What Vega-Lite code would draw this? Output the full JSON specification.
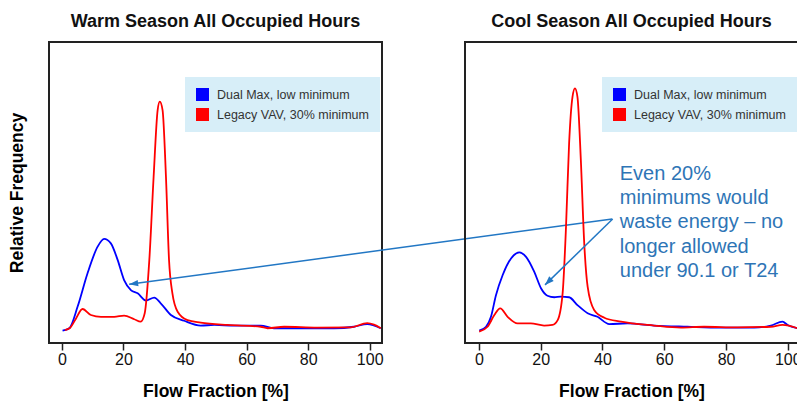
{
  "$schema": "https://vega.github.io/schema/vega-lite/v6.json",
  "padding": {"left": 7, "top": 12, "right": 0, "bottom": 0},
  "bounds": "flush",
  "spacing": 83,
  "config": {
    "font": "Liberation Sans",
    "view": {"stroke": "#222", "strokeWidth": 2},
    "axis": {"grid": false}
  },
  "datasets": {
    "curves": [
      {"p": "warm", "s": "Dual Max, low minimum", "x": 0.2, "y": 4.1},
      {"p": "warm", "s": "Dual Max, low minimum", "x": 2.4, "y": 4.9},
      {"p": "warm", "s": "Dual Max, low minimum", "x": 5.1, "y": 12.1},
      {"p": "warm", "s": "Dual Max, low minimum", "x": 8.3, "y": 23.1},
      {"p": "warm", "s": "Dual Max, low minimum", "x": 11.6, "y": 32.0},
      {"p": "warm", "s": "Dual Max, low minimum", "x": 13.7, "y": 34.6},
      {"p": "warm", "s": "Dual Max, low minimum", "x": 15.9, "y": 33.1},
      {"p": "warm", "s": "Dual Max, low minimum", "x": 18.1, "y": 27.6},
      {"p": "warm", "s": "Dual Max, low minimum", "x": 20.2, "y": 20.9},
      {"p": "warm", "s": "Dual Max, low minimum", "x": 22.4, "y": 17.6},
      {"p": "warm", "s": "Dual Max, low minimum", "x": 24.6, "y": 16.5},
      {"p": "warm", "s": "Dual Max, low minimum", "x": 27.3, "y": 14.1},
      {"p": "warm", "s": "Dual Max, low minimum", "x": 30.0, "y": 15.1},
      {"p": "warm", "s": "Dual Max, low minimum", "x": 32.1, "y": 13.2},
      {"p": "warm", "s": "Dual Max, low minimum", "x": 35.4, "y": 9.3},
      {"p": "warm", "s": "Dual Max, low minimum", "x": 39.7, "y": 7.4},
      {"p": "warm", "s": "Dual Max, low minimum", "x": 45.1, "y": 5.8},
      {"p": "warm", "s": "Dual Max, low minimum", "x": 49.5, "y": 6.0},
      {"p": "warm", "s": "Dual Max, low minimum", "x": 56.0, "y": 5.8},
      {"p": "warm", "s": "Dual Max, low minimum", "x": 64.6, "y": 5.8},
      {"p": "warm", "s": "Dual Max, low minimum", "x": 68.9, "y": 4.9},
      {"p": "warm", "s": "Dual Max, low minimum", "x": 77.6, "y": 4.9},
      {"p": "warm", "s": "Dual Max, low minimum", "x": 88.4, "y": 4.9},
      {"p": "warm", "s": "Dual Max, low minimum", "x": 94.9, "y": 5.4},
      {"p": "warm", "s": "Dual Max, low minimum", "x": 99.2, "y": 6.3},
      {"p": "warm", "s": "Dual Max, low minimum", "x": 103.6, "y": 4.9},
      {"p": "warm", "s": "Legacy VAV, 30% minimum", "x": 1.0, "y": 4.3},
      {"p": "warm", "s": "Legacy VAV, 30% minimum", "x": 2.6, "y": 5.0},
      {"p": "warm", "s": "Legacy VAV, 30% minimum", "x": 4.5, "y": 8.0},
      {"p": "warm", "s": "Legacy VAV, 30% minimum", "x": 6.7, "y": 11.3},
      {"p": "warm", "s": "Legacy VAV, 30% minimum", "x": 9.4, "y": 9.3},
      {"p": "warm", "s": "Legacy VAV, 30% minimum", "x": 12.7, "y": 8.7},
      {"p": "warm", "s": "Legacy VAV, 30% minimum", "x": 17.0, "y": 8.7},
      {"p": "warm", "s": "Legacy VAV, 30% minimum", "x": 20.2, "y": 9.1},
      {"p": "warm", "s": "Legacy VAV, 30% minimum", "x": 23.5, "y": 7.9},
      {"p": "warm", "s": "Legacy VAV, 30% minimum", "x": 25.6, "y": 7.1},
      {"p": "warm", "s": "Legacy VAV, 30% minimum", "x": 26.9, "y": 9.9},
      {"p": "warm", "s": "Legacy VAV, 30% minimum", "x": 28.4, "y": 27.6},
      {"p": "warm", "s": "Legacy VAV, 30% minimum", "x": 29.8, "y": 55.3},
      {"p": "warm", "s": "Legacy VAV, 30% minimum", "x": 31.1, "y": 77.4},
      {"p": "warm", "s": "Legacy VAV, 30% minimum", "x": 31.8, "y": 80.2},
      {"p": "warm", "s": "Legacy VAV, 30% minimum", "x": 32.7, "y": 77.4},
      {"p": "warm", "s": "Legacy VAV, 30% minimum", "x": 33.8, "y": 55.3},
      {"p": "warm", "s": "Legacy VAV, 30% minimum", "x": 34.8, "y": 27.6},
      {"p": "warm", "s": "Legacy VAV, 30% minimum", "x": 35.9, "y": 16.5},
      {"p": "warm", "s": "Legacy VAV, 30% minimum", "x": 37.6, "y": 10.4},
      {"p": "warm", "s": "Legacy VAV, 30% minimum", "x": 40.8, "y": 7.6},
      {"p": "warm", "s": "Legacy VAV, 30% minimum", "x": 45.1, "y": 6.8},
      {"p": "warm", "s": "Legacy VAV, 30% minimum", "x": 53.8, "y": 6.0},
      {"p": "warm", "s": "Legacy VAV, 30% minimum", "x": 64.6, "y": 5.4},
      {"p": "warm", "s": "Legacy VAV, 30% minimum", "x": 66.8, "y": 4.9},
      {"p": "warm", "s": "Legacy VAV, 30% minimum", "x": 72.2, "y": 5.4},
      {"p": "warm", "s": "Legacy VAV, 30% minimum", "x": 83.0, "y": 5.1},
      {"p": "warm", "s": "Legacy VAV, 30% minimum", "x": 93.8, "y": 5.2},
      {"p": "warm", "s": "Legacy VAV, 30% minimum", "x": 99.2, "y": 6.6},
      {"p": "warm", "s": "Legacy VAV, 30% minimum", "x": 101.4, "y": 6.1},
      {"p": "warm", "s": "Legacy VAV, 30% minimum", "x": 103.6, "y": 4.9},
      {"p": "cool", "s": "Dual Max, low minimum", "x": 0.1, "y": 4.1},
      {"p": "cool", "s": "Dual Max, low minimum", "x": 2.3, "y": 5.4},
      {"p": "cool", "s": "Dual Max, low minimum", "x": 3.9, "y": 8.7},
      {"p": "cool", "s": "Dual Max, low minimum", "x": 5.5, "y": 15.8},
      {"p": "cool", "s": "Dual Max, low minimum", "x": 7.7, "y": 22.6},
      {"p": "cool", "s": "Dual Max, low minimum", "x": 10.4, "y": 28.1},
      {"p": "cool", "s": "Dual Max, low minimum", "x": 13.1, "y": 30.1},
      {"p": "cool", "s": "Dual Max, low minimum", "x": 15.2, "y": 28.7},
      {"p": "cool", "s": "Dual Max, low minimum", "x": 17.9, "y": 23.7},
      {"p": "cool", "s": "Dual Max, low minimum", "x": 20.1, "y": 18.2},
      {"p": "cool", "s": "Dual Max, low minimum", "x": 22.2, "y": 15.7},
      {"p": "cool", "s": "Dual Max, low minimum", "x": 24.4, "y": 15.2},
      {"p": "cool", "s": "Dual Max, low minimum", "x": 26.5, "y": 15.4},
      {"p": "cool", "s": "Dual Max, low minimum", "x": 29.2, "y": 15.2},
      {"p": "cool", "s": "Dual Max, low minimum", "x": 31.9, "y": 12.6},
      {"p": "cool", "s": "Dual Max, low minimum", "x": 35.2, "y": 9.9},
      {"p": "cool", "s": "Dual Max, low minimum", "x": 38.4, "y": 8.7},
      {"p": "cool", "s": "Dual Max, low minimum", "x": 42.2, "y": 6.3},
      {"p": "cool", "s": "Dual Max, low minimum", "x": 48.1, "y": 6.5},
      {"p": "cool", "s": "Dual Max, low minimum", "x": 56.7, "y": 5.8},
      {"p": "cool", "s": "Dual Max, low minimum", "x": 67.5, "y": 5.4},
      {"p": "cool", "s": "Dual Max, low minimum", "x": 78.3, "y": 5.1},
      {"p": "cool", "s": "Dual Max, low minimum", "x": 89.1, "y": 5.1},
      {"p": "cool", "s": "Dual Max, low minimum", "x": 94.5, "y": 5.8},
      {"p": "cool", "s": "Dual Max, low minimum", "x": 98.3, "y": 7.1},
      {"p": "cool", "s": "Dual Max, low minimum", "x": 99.9, "y": 6.0},
      {"p": "cool", "s": "Dual Max, low minimum", "x": 103.1, "y": 4.9},
      {"p": "cool", "s": "Legacy VAV, 30% minimum", "x": 0.1, "y": 3.8},
      {"p": "cool", "s": "Legacy VAV, 30% minimum", "x": 2.8, "y": 5.4},
      {"p": "cool", "s": "Legacy VAV, 30% minimum", "x": 5.0, "y": 9.3},
      {"p": "cool", "s": "Legacy VAV, 30% minimum", "x": 6.9, "y": 11.5},
      {"p": "cool", "s": "Legacy VAV, 30% minimum", "x": 9.3, "y": 8.7},
      {"p": "cool", "s": "Legacy VAV, 30% minimum", "x": 12.5, "y": 6.5},
      {"p": "cool", "s": "Legacy VAV, 30% minimum", "x": 16.8, "y": 6.5},
      {"p": "cool", "s": "Legacy VAV, 30% minimum", "x": 21.1, "y": 5.8},
      {"p": "cool", "s": "Legacy VAV, 30% minimum", "x": 23.8, "y": 6.0},
      {"p": "cool", "s": "Legacy VAV, 30% minimum", "x": 25.5, "y": 7.6},
      {"p": "cool", "s": "Legacy VAV, 30% minimum", "x": 27.1, "y": 16.5},
      {"p": "cool", "s": "Legacy VAV, 30% minimum", "x": 28.2, "y": 38.6},
      {"p": "cool", "s": "Legacy VAV, 30% minimum", "x": 29.2, "y": 66.3},
      {"p": "cool", "s": "Legacy VAV, 30% minimum", "x": 30.3, "y": 81.8},
      {"p": "cool", "s": "Legacy VAV, 30% minimum", "x": 31.1, "y": 84.6},
      {"p": "cool", "s": "Legacy VAV, 30% minimum", "x": 31.9, "y": 81.8},
      {"p": "cool", "s": "Legacy VAV, 30% minimum", "x": 33.0, "y": 60.8},
      {"p": "cool", "s": "Legacy VAV, 30% minimum", "x": 34.1, "y": 33.1},
      {"p": "cool", "s": "Legacy VAV, 30% minimum", "x": 35.2, "y": 18.7},
      {"p": "cool", "s": "Legacy VAV, 30% minimum", "x": 37.3, "y": 11.0},
      {"p": "cool", "s": "Legacy VAV, 30% minimum", "x": 40.6, "y": 8.4},
      {"p": "cool", "s": "Legacy VAV, 30% minimum", "x": 46.0, "y": 7.1},
      {"p": "cool", "s": "Legacy VAV, 30% minimum", "x": 56.7, "y": 5.8},
      {"p": "cool", "s": "Legacy VAV, 30% minimum", "x": 65.4, "y": 5.1},
      {"p": "cool", "s": "Legacy VAV, 30% minimum", "x": 72.9, "y": 5.4},
      {"p": "cool", "s": "Legacy VAV, 30% minimum", "x": 83.7, "y": 5.2},
      {"p": "cool", "s": "Legacy VAV, 30% minimum", "x": 94.5, "y": 5.4},
      {"p": "cool", "s": "Legacy VAV, 30% minimum", "x": 98.3, "y": 6.0},
      {"p": "cool", "s": "Legacy VAV, 30% minimum", "x": 103.1, "y": 4.9}
    ],
    "arrows": [
      {"p": "warm", "hx": 21.85, "hy": 19.5, "tx": 178.8, "ty": 41.2, "a": 262.3},
      {"p": "cool", "hx": 21.4, "hy": 19.3, "tx": 43.3, "ty": 41.2, "a": 225.7}
    ],
    "notes": [
      {"x": 45.6, "y": 54.3, "t": "Even 20%\nminimums would\nwaste energy – no\nlonger allowed\nunder 90.1 or T24"}
    ]
  },
  "hconcat": [
    {
      "width": 333,
      "height": 301,
      "title": {"text": "Warm Season All Occupied Hours", "fontSize": 18, "fontWeight": "bold", "color": "#111", "baseline": "alphabetic", "offset": -3, "anchor": "middle"},
      "layer": [
        {
          "data": {"name": "curves"},
          "transform": [{"filter": "datum.p == 'warm'"}],
          "mark": {"type": "line", "interpolate": "monotone", "strokeWidth": 1.8},
          "encoding": {
            "x": {"field": "x", "type": "quantitative", "scale": {"domain": [-4.2, 104], "nice": false, "zero": false},
              "axis": {"values": [0, 20, 40, 60, 80, 100], "title": "Flow Fraction [%]", "domain": false, "tickSize": 7, "tickColor": "#222", "tickWidth": 1.5, "labelFontSize": 16, "labelColor": "#111", "labelPadding": 1, "titleFontSize": 17.5, "titleFontWeight": "bold", "titleColor": "#000", "titlePadding": 15}},
            "y": {"field": "y", "type": "quantitative", "scale": {"domain": [0, 100], "nice": false},
              "axis": {"title": "Relative Frequency", "labels": false, "ticks": false, "domain": false, "titleFontSize": 17.5, "titleFontWeight": "bold", "titleColor": "#000", "titlePadding": 23}},
            "color": {"field": "s", "type": "nominal",
              "scale": {"domain": ["Dual Max, low minimum", "Legacy VAV, 30% minimum"], "range": ["#0000ff", "#ff0000"]},
              "legend": {"orient": "none", "legendX": 136, "legendY": 35, "title": null, "symbolType": "square", "symbolSize": 169, "labelFontSize": 12.5, "labelColor": "#333", "labelOffset": 8, "rowPadding": 7, "padding": 11, "fillColor": "#d7eef8",
                "encode": {"symbols": {"update": {"fill": {"signal": "datum.value == 'Dual Max, low minimum' ? '#0000ff' : '#ff0000'"}, "fillOpacity": {"value": 1}, "strokeWidth": {"value": 0}}}}}}
          }
        },
        {
          "data": {"name": "arrows"},
          "transform": [{"filter": "datum.p == 'warm'"}],
          "mark": {"type": "rule", "color": "#2277c4", "strokeWidth": 1.5},
          "encoding": {
            "x": {"field": "hx", "type": "quantitative", "scale": {"domain": [-4.2, 104], "nice": false, "zero": false}},
            "y": {"field": "hy", "type": "quantitative", "scale": {"domain": [0, 100], "nice": false}},
            "x2": {"field": "tx"},
            "y2": {"field": "ty"}
          }
        },
        {
          "data": {"name": "arrows"},
          "transform": [{"filter": "datum.p == 'warm'"}],
          "mark": {"type": "point", "shape": "M0,0L-0.36,1L0.36,1Z", "filled": true, "size": 324, "color": "#2277c4", "opacity": 1},
          "encoding": {
            "x": {"field": "hx", "type": "quantitative", "scale": {"domain": [-4.2, 104], "nice": false, "zero": false}},
            "y": {"field": "hy", "type": "quantitative", "scale": {"domain": [0, 100], "nice": false}},
            "angle": {"field": "a", "type": "quantitative", "scale": null}
          }
        }
      ]
    },
    {
      "width": 333,
      "height": 301,
      "title": {"text": "Cool Season All Occupied Hours", "fontSize": 18, "fontWeight": "bold", "color": "#111", "baseline": "alphabetic", "offset": -3, "anchor": "middle"},
      "layer": [
        {
          "data": {"name": "curves"},
          "transform": [{"filter": "datum.p == 'cool'"}],
          "mark": {"type": "line", "interpolate": "monotone", "strokeWidth": 1.8},
          "encoding": {
            "x": {"field": "x", "type": "quantitative", "scale": {"domain": [-4.5, 103.3], "nice": false, "zero": false},
              "axis": {"values": [0, 20, 40, 60, 80, 100], "title": "Flow Fraction [%]", "domain": false, "tickSize": 7, "tickColor": "#222", "tickWidth": 1.5, "labelFontSize": 16, "labelColor": "#111", "labelPadding": 1, "titleFontSize": 17.5, "titleFontWeight": "bold", "titleColor": "#000", "titlePadding": 15}},
            "y": {"field": "y", "type": "quantitative", "scale": {"domain": [0, 100], "nice": false}, "axis": null},
            "color": {"field": "s", "type": "nominal",
              "scale": {"domain": ["Dual Max, low minimum", "Legacy VAV, 30% minimum"], "range": ["#0000ff", "#ff0000"]},
              "legend": {"orient": "none", "legendX": 137, "legendY": 35, "title": null, "symbolType": "square", "symbolSize": 169, "labelFontSize": 12.5, "labelColor": "#333", "labelOffset": 8, "rowPadding": 7, "padding": 11, "fillColor": "#d7eef8",
                "encode": {"symbols": {"update": {"fill": {"signal": "datum.value == 'Dual Max, low minimum' ? '#0000ff' : '#ff0000'"}, "fillOpacity": {"value": 1}, "strokeWidth": {"value": 0}}}}}}
          }
        },
        {
          "data": {"name": "arrows"},
          "transform": [{"filter": "datum.p == 'cool'"}],
          "mark": {"type": "rule", "color": "#2277c4", "strokeWidth": 1.5},
          "encoding": {
            "x": {"field": "hx", "type": "quantitative", "scale": {"domain": [-4.5, 103.3], "nice": false, "zero": false}},
            "y": {"field": "hy", "type": "quantitative", "scale": {"domain": [0, 100], "nice": false}},
            "x2": {"field": "tx"},
            "y2": {"field": "ty"}
          }
        },
        {
          "data": {"name": "arrows"},
          "transform": [{"filter": "datum.p == 'cool'"}],
          "mark": {"type": "point", "shape": "M0,0L-0.36,1L0.36,1Z", "filled": true, "size": 324, "color": "#2277c4", "opacity": 1},
          "encoding": {
            "x": {"field": "hx", "type": "quantitative", "scale": {"domain": [-4.5, 103.3], "nice": false, "zero": false}},
            "y": {"field": "hy", "type": "quantitative", "scale": {"domain": [0, 100], "nice": false}},
            "angle": {"field": "a", "type": "quantitative", "scale": null}
          }
        },
        {
          "data": {"name": "notes"},
          "mark": {"type": "text", "align": "left", "baseline": "alphabetic", "fontSize": 20, "lineHeight": 24.4, "color": "#2e75b6", "lineBreak": "\n"},
          "encoding": {
            "x": {"field": "x", "type": "quantitative", "scale": {"domain": [-4.5, 103.3], "nice": false, "zero": false}},
            "y": {"field": "y", "type": "quantitative", "scale": {"domain": [0, 100], "nice": false}},
            "text": {"field": "t", "type": "nominal"}
          }
        }
      ]
    }
  ],
  "resolve": {"scale": {"color": "independent", "x": "independent", "y": "independent"}, "legend": {"color": "independent"}}
}
